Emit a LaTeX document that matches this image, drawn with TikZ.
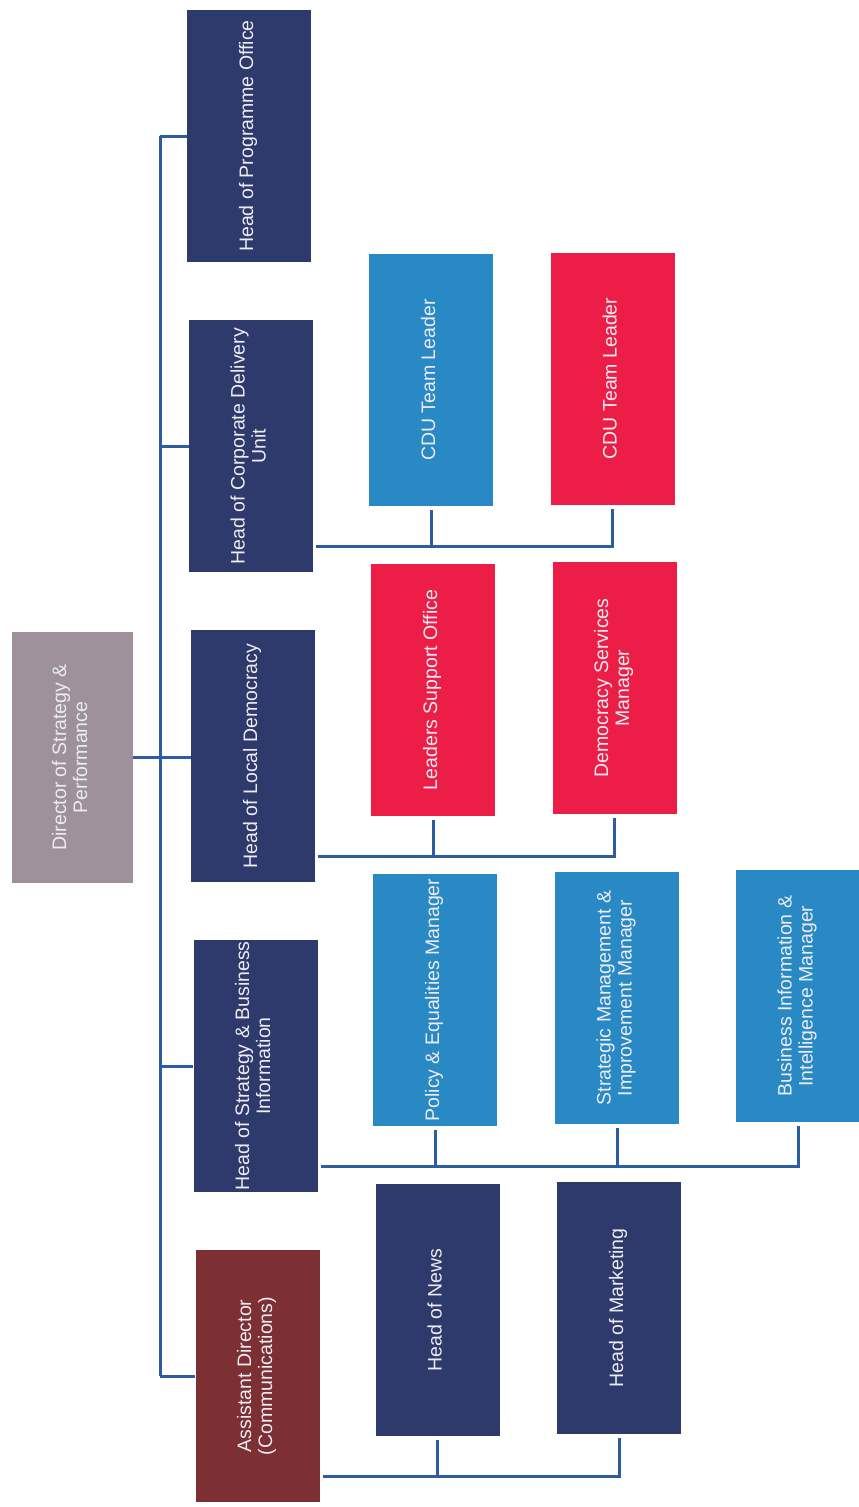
\documentclass[tikz,border=0pt]{standalone}
\usepackage{fontspec}
\setmainfont{Liberation Sans}
\definecolor{navy}{RGB}{46,58,108}
\definecolor{cblue}{RGB}{40,137,196}
\definecolor{cred}{RGB}{236,30,72}
\definecolor{maroon}{RGB}{124,48,52}
\definecolor{mauve}{RGB}{158,145,155}
\definecolor{wire}{RGB}{46,92,160}
\definecolor{txt}{RGB}{236,236,242}
\begin{document}
\begin{tikzpicture}[x=1pt,y=-1pt,
  box/.style={rectangle, inner sep=0pt, minimum width=124pt, minimum height=252pt,
    text=txt, font=\fontsize{19.5}{21}\selectfont},
  wireline/.style={draw=wire, line width=3pt}]
\useasboundingbox (0,0) rectangle (859,1507);
\fill[white] (0,0) rectangle (859,1507);
\newcommand{\rt}[1]{\rotatebox{90}{\begin{tabular}{@{}c@{}}#1\end{tabular}}}
% level 0
\node[box, fill=mauve, minimum width=121pt, minimum height=251pt] (dir) at (72.5,757.5) {\rt{Director of Strategy \&\\Performance}};
% level 1
\node[box, fill=navy] (hpo) at (249,136) {\rt{Head of Programme Office}};
\node[box, fill=navy] (hcd) at (251,446) {\rt{Head of Corporate Delivery\\Unit}};
\node[box, fill=navy] (hld) at (253,756) {\rt{Head of Local Democracy}};
\node[box, fill=navy] (hsb) at (255.5,1066) {\rt{Head of Strategy \& Business\\Information}};
\node[box, fill=maroon] (ad) at (257.5,1376) {\rt{Assistant Director\\(Communications)}};
% level 2
\node[box, fill=cblue] (cdu1) at (431,380) {\rt{CDU Team Leader}};
\node[box, fill=cred] (cdu2) at (612.5,378.5) {\rt{CDU Team Leader}};
\node[box, fill=cred] (lso) at (433,690) {\rt{Leaders Support Office}};
\node[box, fill=cred] (dsm) at (614.5,688) {\rt{Democracy Services\\Manager}};
\node[box, fill=cblue] (pem) at (435,1000) {\rt{Policy \& Equalities Manager}};
\node[box, fill=cblue] (smi) at (617,998) {\rt{Strategic Management \&\\Improvement Manager}};
\node[box, fill=cblue] (bii) at (798,996) {\rt{Business Information \&\\Intelligence Manager}};
\node[box, fill=navy] (news) at (437.5,1310) {\rt{Head of News}};
\node[box, fill=navy] (mkt) at (619,1308) {\rt{Head of Marketing}};
% spine
\coordinate (st) at (160,136);
\coordinate (sb) at (160,1376);
\draw[wireline] (st) -- (sb);
\draw[wireline] (dir.east) -- (dir.east -| hld.west);
\foreach \n in {hpo,hcd,hsb,ad}{
  \draw[wireline] (st |- \n.west) -- (\n.west);
}
% CDU group
\coordinate (cb) at (316,546);
\draw[wireline] (cb) -- (cb -| cdu2.south) -- ([yshift=-4pt]cdu2.south);
\draw[wireline] ([yshift=-4pt]cdu1.south) -- (cdu1.south |- cb);
% Local democracy group
\coordinate (lb) at (318,856);
\draw[wireline] (lb) -- (lb -| dsm.south) -- ([yshift=-4pt]dsm.south);
\draw[wireline] ([yshift=-4pt]lso.south) -- (lso.south |- lb);
% Strategy group
\coordinate (sgb) at (321,1166);
\draw[wireline] (sgb) -- (sgb -| bii.south) -- ([yshift=-4pt]bii.south);
\draw[wireline] ([yshift=-4pt]pem.south) -- (pem.south |- sgb);
\draw[wireline] ([yshift=-4pt]smi.south) -- (smi.south |- sgb);
% Comms group
\coordinate (ab) at (323,1476);
\draw[wireline] (ab) -- (ab -| mkt.south) -- ([yshift=-4pt]mkt.south);
\draw[wireline] ([yshift=-4pt]news.south) -- (news.south |- ab);
\end{tikzpicture}
\end{document}
